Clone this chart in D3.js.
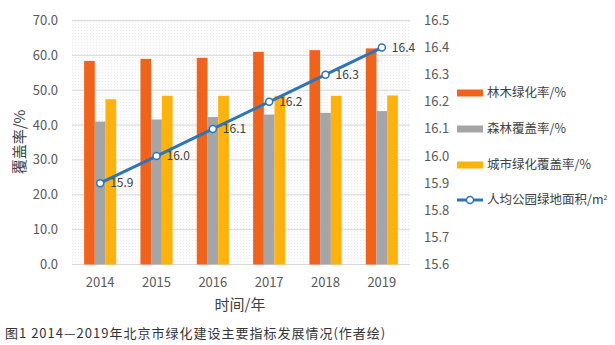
<!DOCTYPE html>
<html>
<head>
<meta charset="utf-8">
<script src="https://cdn.jsdelivr.net/npm/d3@7"></script>
<style>
  body { margin: 0; background: #fff; }
  svg { display: block; font-family: "Noto Sans CJK SC", "Noto Sans", sans-serif; }
</style>
</head>
<body>
<svg width="615" height="345"></svg>
<script>
// years on the x axis
var years = ["2014", "2015", "2016", "2017", "2018", "2019"];

// bar series (left axis, %)
var linmu = [58.4, 59.0, 59.3, 61.0, 61.5, 62.0];
var senlin = [41.0, 41.6, 42.3, 43.0, 43.5, 44.0];
var chengshi = [47.4, 48.4, 48.4, 48.4, 48.4, 48.5];

// line series (right axis, m²)
var renjun = [15.9, 16.0, 16.1, 16.2, 16.3, 16.4];

var leftTicks = [0, 10, 20, 30, 40, 50, 60, 70];
var rightTicks = [15.6, 15.7, 15.8, 15.9, 16.0, 16.1, 16.2, 16.3, 16.4, 16.5];

var barSeries = [
  { name: "林木绿化率/%", values: linmu, color: "#f0631d" },
  { name: "森林覆盖率/%", values: senlin, color: "#a5a5a5" },
  { name: "城市绿化覆盖率/%", values: chengshi, color: "#ffb10d" }
];

var svg = d3.select("svg");
var plotL = 72, plotR = 410, plotT = 20.5, plotB = 264.5;

var x = d3.scaleBand().domain(years).range([plotL, plotR])
    .paddingInner(0.43).paddingOuter(0.215);
var xs = d3.scaleBand().domain(d3.range(barSeries.length)).range([0, x.bandwidth()]);
var y = d3.scaleLinear().domain([0, 70]).range([plotB, plotT]);
var y2 = d3.scaleLinear().domain([15.6, 16.5]).range([plotB, plotT]);

// faint textured plot background
var defs = svg.append("defs");
var pat = defs.append("pattern").attr("id", "bgdots")
    .attr("width", 3).attr("height", 3).attr("patternUnits", "userSpaceOnUse");
pat.append("rect").attr("width", 3).attr("height", 3).attr("fill", "#fcfcfc");
pat.append("rect").attr("width", 1).attr("height", 1).attr("fill", "#ececec");
svg.append("rect").attr("x", plotL).attr("y", plotT)
    .attr("width", plotR - plotL).attr("height", plotB - plotT)
    .attr("fill", "url(#bgdots)");

// gridlines
svg.append("g").selectAll("line").data(leftTicks).enter().append("line")
    .attr("x1", plotL).attr("x2", plotR)
    .attr("y1", function (d) { return y(d); })
    .attr("y2", function (d) { return y(d); })
    .attr("stroke", "#d9d9d9").attr("stroke-width", 1);

// left axis labels
svg.append("g").selectAll("text").data(leftTicks).enter().append("text")
    .attr("x", 58).attr("y", function (d) { return y(d); })
    .attr("dy", "0.35em").attr("text-anchor", "end")
    .attr("font-size", 13).attr("fill", "#595959")
    .text(function (d) { return d.toFixed(1); });

// right axis labels
svg.append("g").selectAll("text").data(rightTicks).enter().append("text")
    .attr("x", 424).attr("y", function (d) { return y2(d); })
    .attr("dy", "0.35em").attr("text-anchor", "start")
    .attr("font-size", 13).attr("fill", "#595959")
    .text(function (d) { return d.toFixed(1); });

// bars
barSeries.forEach(function (s, i) {
  svg.append("g").selectAll("rect").data(s.values).enter().append("rect")
      .attr("x", function (d, j) { return x(years[j]) + xs(i); })
      .attr("width", xs.bandwidth())
      .attr("y", function (d) { return y(d); })
      .attr("height", function (d) { return plotB - y(d); })
      .attr("fill", s.color);
});

// line series
var cx = function (d, j) { return x(years[j]) + x.bandwidth() / 2; };
var line = d3.line()
    .x(function (d, j) { return cx(d, j); })
    .y(function (d) { return y2(d); });
svg.append("path").datum(renjun).attr("d", line)
    .attr("fill", "none").attr("stroke", "#2e75b6").attr("stroke-width", 3);
svg.append("g").selectAll("circle").data(renjun).enter().append("circle")
    .attr("cx", cx).attr("cy", function (d) { return y2(d); })
    .attr("r", 3.5).attr("fill", "#fff")
    .attr("stroke", "#2e75b6").attr("stroke-width", 1.5);
svg.append("g").selectAll("text").data(renjun).enter().append("text")
    .attr("x", function (d, j) { return cx(d, j) + 10; })
    .attr("y", function (d) { return y2(d); })
    .attr("dy", "0.35em").attr("font-size", 12).attr("fill", "#404040")
    .text(function (d) { return d.toFixed(1); });

// x axis labels
svg.append("g").selectAll("text").data(years).enter().append("text")
    .attr("x", function (d) { return x(d) + x.bandwidth() / 2; })
    .attr("y", 282).attr("dy", "0.35em").attr("text-anchor", "middle")
    .attr("font-size", 13).attr("fill", "#595959")
    .text(function (d) { return d; });

// axis titles
svg.append("text").attr("x", 240).attr("y", 305).attr("dy", "0.35em")
    .attr("text-anchor", "middle").attr("font-size", 15).attr("fill", "#404040")
    .text("时间/年");
svg.append("text")
    .attr("transform", "translate(20,142) rotate(-90)")
    .attr("dy", "0.35em").attr("text-anchor", "middle")
    .attr("font-size", 15).attr("fill", "#404040")
    .text("覆盖率/%");

// legend
var legend = svg.append("g");
var legY = [93, 129, 165, 200];
barSeries.forEach(function (s, i) {
  legend.append("rect").attr("x", 457).attr("y", legY[i] - 3.5)
      .attr("width", 26).attr("height", 7).attr("fill", s.color);
  legend.append("text").attr("x", 487).attr("y", legY[i]).attr("dy", "0.35em")
      .attr("font-size", 12.5).attr("fill", "#404040").text(s.name);
});
legend.append("line").attr("x1", 457).attr("x2", 483)
    .attr("y1", legY[3]).attr("y2", legY[3])
    .attr("stroke", "#2e75b6").attr("stroke-width", 3);
legend.append("circle").attr("cx", 470).attr("cy", legY[3]).attr("r", 3.5)
    .attr("fill", "#fff").attr("stroke", "#2e75b6").attr("stroke-width", 1.5);
var lt = legend.append("text").attr("x", 487).attr("y", legY[3]).attr("dy", "0.35em")
    .attr("font-size", 12.5).attr("fill", "#404040");
lt.append("tspan").text("人均公园绿地面积/m");
lt.append("tspan").attr("font-size", 7).attr("dy", "-0.6em").text("2");

// caption
svg.append("text").attr("x", 5).attr("y", 333).attr("dy", "0.35em")
    .attr("font-size", 13).attr("fill", "#333").attr("letter-spacing", 1)
    .style("white-space", "pre")
    .text("图1 2014—2019年北京市绿化建设主要指标发展情况(作者绘)");
</script>
</body>
</html>
